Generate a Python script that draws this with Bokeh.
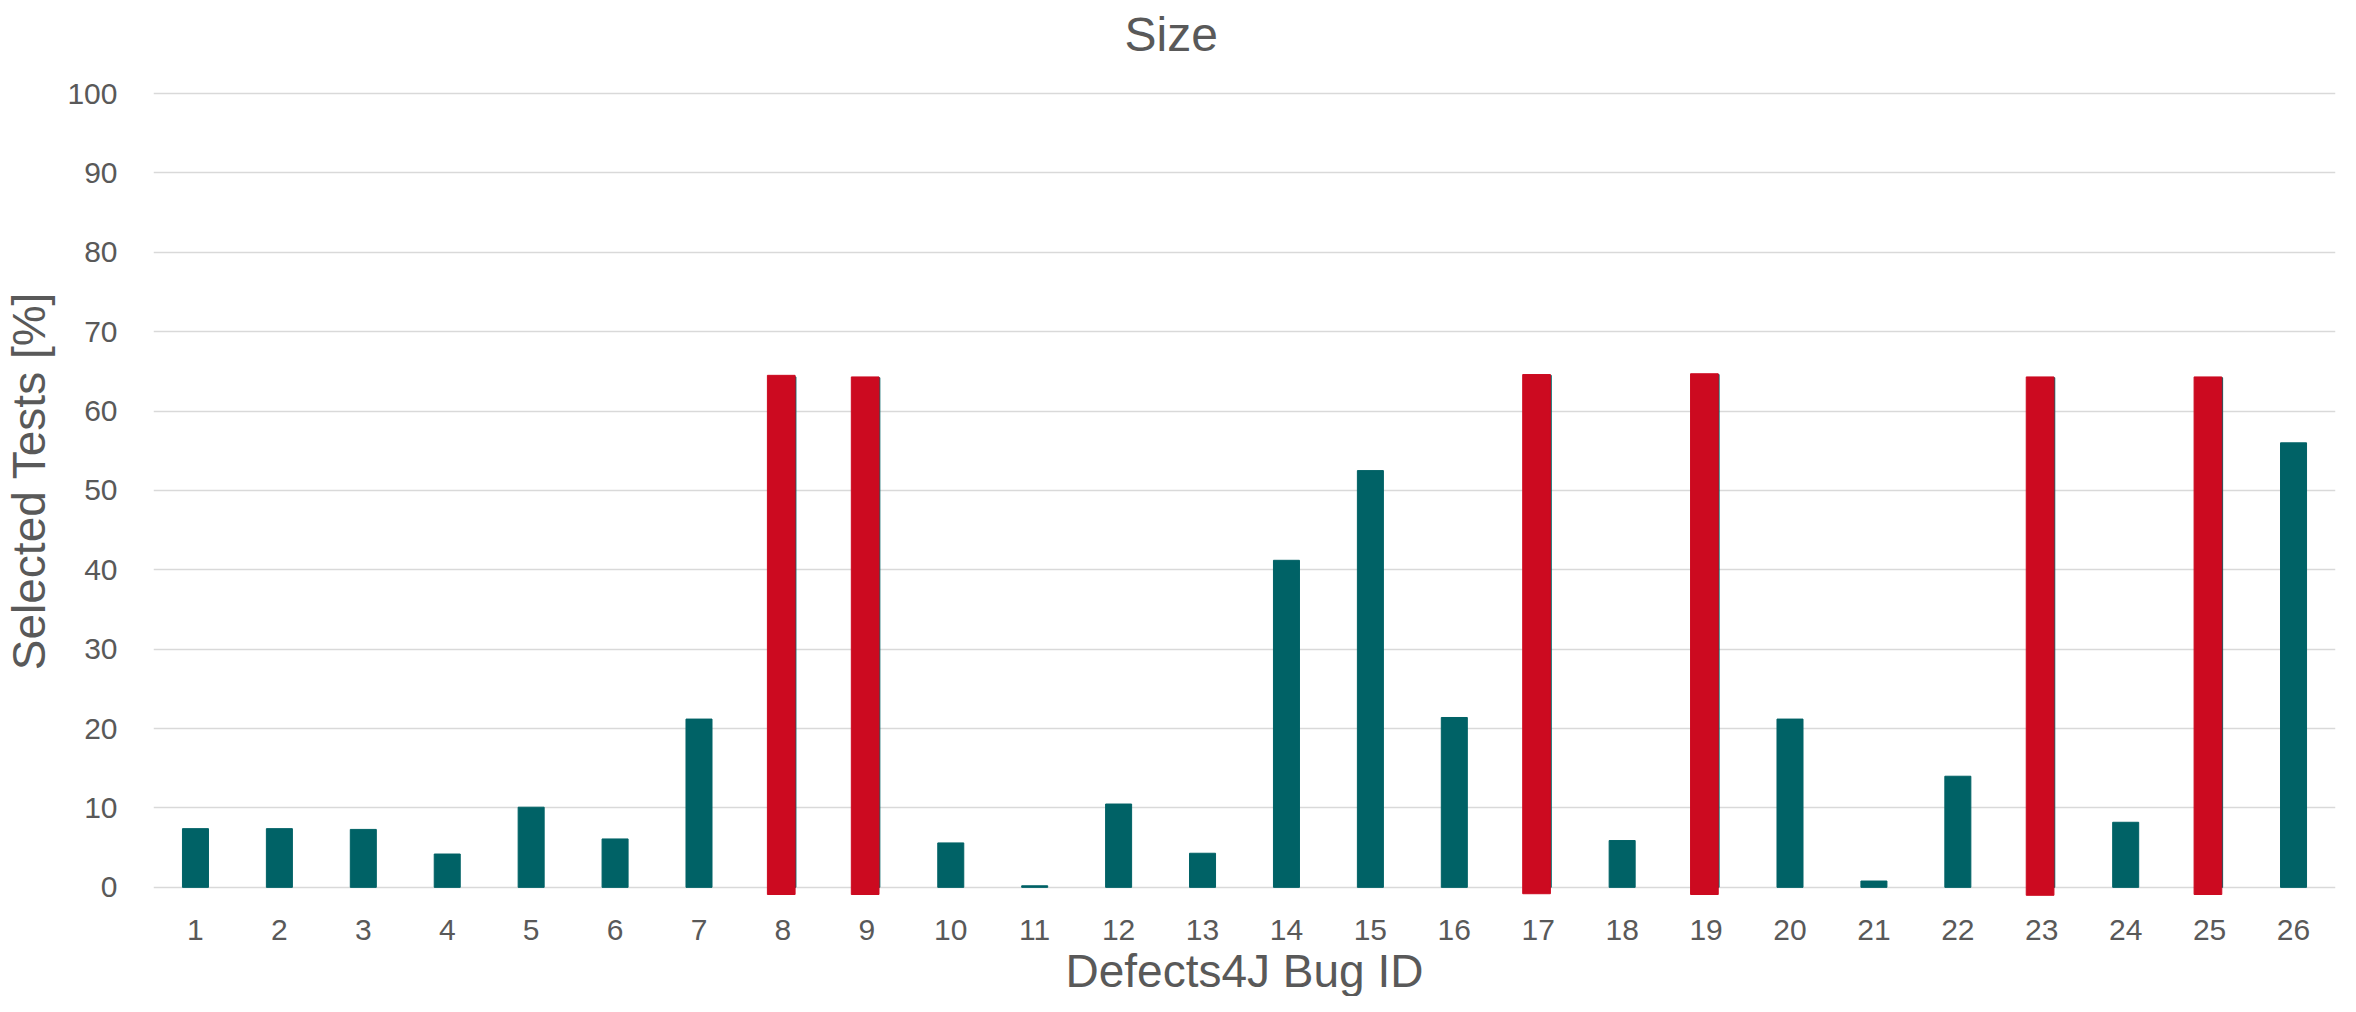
from bokeh.plotting import figure
from bokeh.models import FactorRange, Range1d, FixedTicker, Title
from bokeh.transform import dodge
from bokeh.embed import file_html
from bokeh.resources import INLINE

bug_ids = [str(i) for i in range(1, 27)]
selected = [7.4, 7.4, 7.3, 4.2, 10.1, 6.1, 21.2, 64.3, 64.2, 5.6, 0.2, 10.5, 4.3,
            41.2, 52.5, 21.4, 64.5, 5.9, 64.6, 21.2, 0.8, 14.0, 64.2, 8.2, 64.2, 56.0]
red_ids = ["8", "9", "17", "19", "23", "25"]
red_values = [64.5, 64.3, 64.6, 64.7, 64.3, 64.3]
red_floor = [-0.9, -0.9, -0.8, -0.9, -1.0, -0.9]

FONT = "Liberation Sans"
GREY = "#595959"
TEAL = "#006266"
RED = "#CC0A20"

p = figure(width=2340, height=996, x_range=FactorRange(*bug_ids),
           y_range=Range1d(-1.15, 103.53), output_backend="svg", toolbar_location=None,
           min_border_left=10, min_border_right=5, min_border_top=10, min_border_bottom=4)

p.vbar(x="x", top="top", width=0.31, color=TEAL,
       source=dict(x=bug_ids, top=selected))
p.vbar(x=dodge("x", -0.02, range=p.x_range), top="top", bottom="bottom", width=0.33,
       color=RED, source=dict(x=red_ids, top=red_values, bottom=red_floor))

p.title = Title(text="Size", align="left", text_font=FONT, text_font_size="48px",
                text_font_style="normal", text_color=GREY, offset=971)

p.outline_line_color = None
p.xgrid.grid_line_color = None
p.ygrid.grid_line_color = "#d9d9d9"
p.ygrid.grid_line_width = 1.5
p.yaxis.ticker = FixedTicker(ticks=list(range(0, 101, 10)))

for ax in (p.xaxis[0], p.yaxis[0]):
    ax.axis_line_color = None
    ax.major_tick_line_color = None
    ax.minor_tick_line_color = None
    ax.major_label_text_font = FONT
    ax.major_label_text_font_size = "30px"
    ax.major_label_text_color = GREY
    ax.axis_label_text_font = FONT
    ax.axis_label_text_font_style = "normal"
    ax.axis_label_text_color = GREY

p.yaxis.axis_label = "Selected Tests [%]"
p.yaxis.axis_label_text_font_size = "46px"
p.yaxis.major_label_standoff = 30
p.xaxis.major_label_standoff = 17
p.yaxis.axis_label_standoff = 9

# x-axis title as a title below the axis
p.add_layout(Title(text="Defects4J Bug ID", align="center", text_font=FONT,
                   text_font_size="46px", text_font_style="normal", text_color=GREY,
                   standoff=0), "below")

open("out.html", "w").write(file_html(p, INLINE))
